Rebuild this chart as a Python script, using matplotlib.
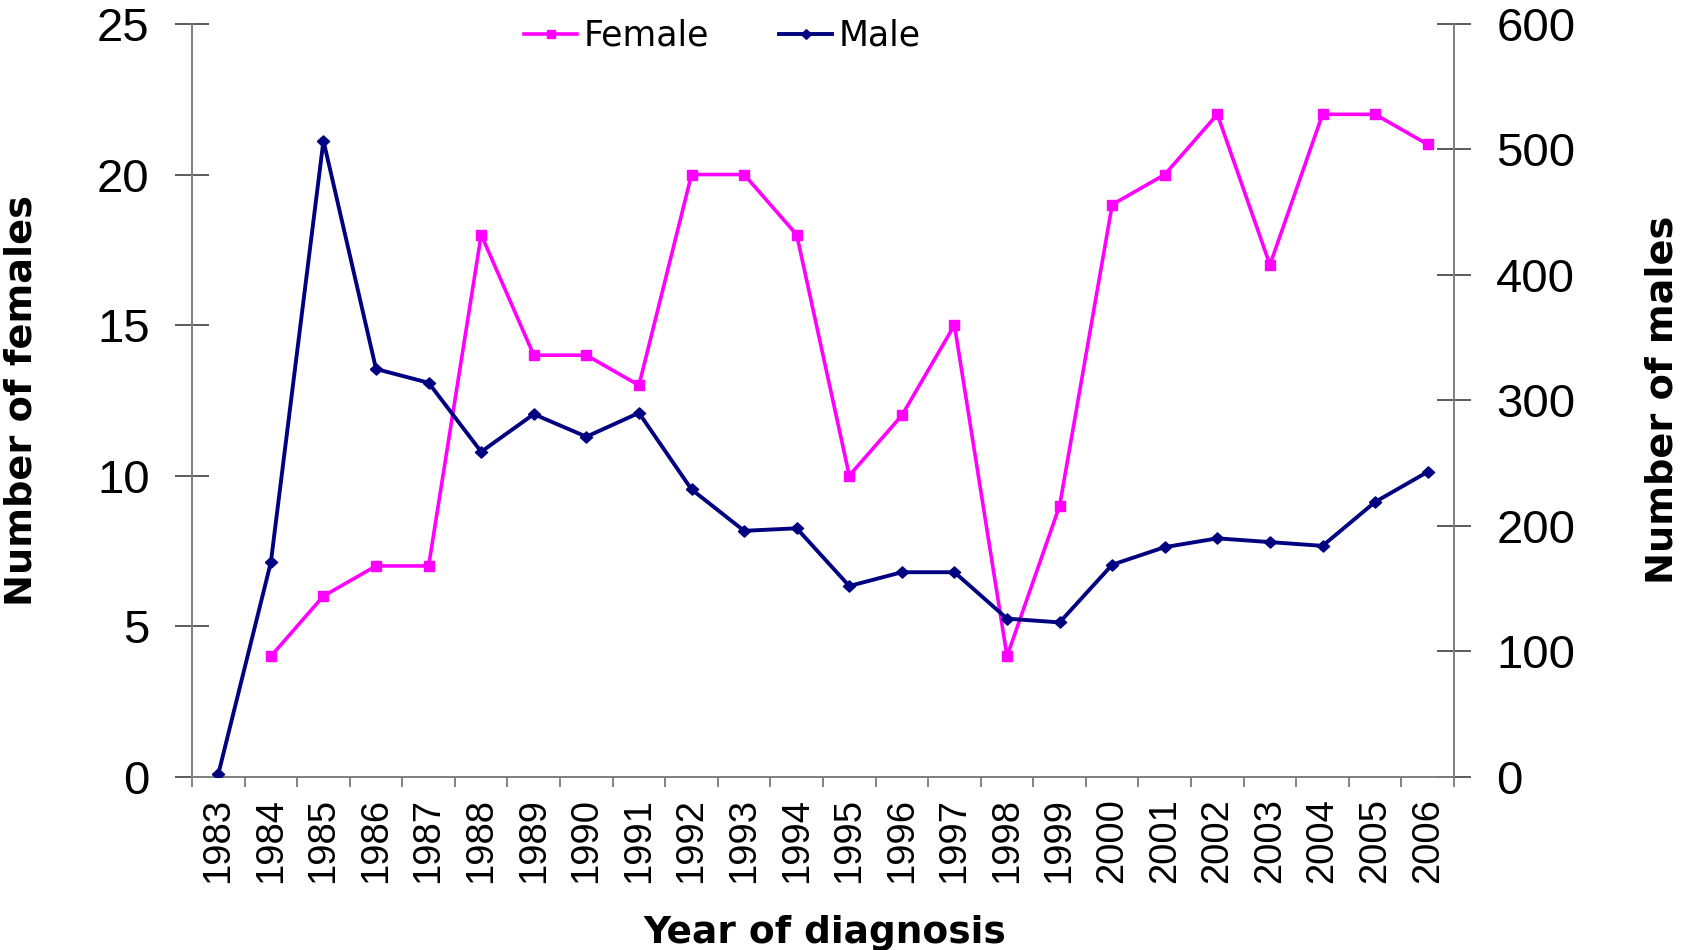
import matplotlib
matplotlib.use("Agg")
import matplotlib.pyplot as plt
import numpy as np

years = [str(y) for y in range(1983, 2007)]
female = [np.nan, 4, 6, 7, 7, 18, 14, 14, 13, 20, 20, 18, 10, 12, 15, 4, 9, 19, 20, 22, 17, 22, 22, 21]
male = [2, 171, 507, 325, 314, 259, 289, 271, 290, 229, 196, 198, 152, 163, 163, 126, 123, 169, 183, 190, 187, 184, 219, 243]

W, H = 1683, 950
fig = plt.figure(figsize=(W / 100, H / 100), dpi=100)
L, R, B, T = 192, 1454, 776.7, 24
ax = fig.add_axes([L / W, 1 - B / H, (R - L) / W, (B - T) / H])
ax2 = ax.twinx()

dm = [(-1, 0), (0, 0.92), (1, 0), (0, -0.92), (-1, 0)]

x = np.arange(len(years))
lf, = ax.plot(x, female, color="#FF00FF", lw=2.6, marker="s", ms=7.6, label="Female", zorder=3)
lm, = ax2.plot(x, male, color="#000080", lw=2.8, marker=dm, ms=8.8, label="Male", zorder=3)

ax.set_xlim(-0.5, len(years) - 0.5)
ax.set_ylim(0, 25)
ax2.set_ylim(0, 600)
ax.set_yticks([0, 5, 10, 15, 20, 25])
ax2.set_yticks([0, 100, 200, 300, 400, 500, 600])

ax.set_xticks(x)
ax.set_xticklabels(years)
ax.set_xticks(np.arange(-0.5, len(years)), minor=True)
ax.tick_params(axis="x", which="major", length=0, pad=15.5, labelsize=27.5,
               labelrotation=90, labelfontfamily="Liberation Sans")
ax.tick_params(axis="x", which="minor", length=7.2, width=1.2, color="#707070", direction="out")

for a in (ax, ax2):
    a.spines["top"].set_visible(False)
    for s in a.spines.values():
        s.set_color("#808080")
        s.set_linewidth(1.3)

for a in (ax, ax2):
    a.tick_params(axis="y", direction="inout", length=24, width=1.2, color="#404040", pad=18.5,
                  labelsize=34, labelfontfamily="Liberation Sans")

fig.text(21.5 / W, 1 - 400 / H, "Number of females", rotation=90, ha="center", va="center",
         fontsize=27.5, fontweight="bold", family="DejaVu Sans")
fig.text(1663 / W, 1 - 400 / H, "Number of males", rotation=90, ha="center", va="center",
         fontsize=27.5, fontweight="bold", family="DejaVu Sans")
fig.text(643 / W, 1 - 943 / H, "Year of diagnosis", ha="left", va="baseline",
         fontsize=27, fontweight="bold", family="DejaVu Sans")

fig.legend(handles=[lf, lm], loc="center left", bbox_to_anchor=(524 / W, 1 - 36 / H), ncol=2, frameon=False,
           prop={"family": "DejaVu Sans", "size": 25}, handlelength=1.53, columnspacing=2.0,
           handletextpad=0.2, borderpad=0, borderaxespad=0, markerscale=0.85)

fig.savefig("out.png", dpi=100)
